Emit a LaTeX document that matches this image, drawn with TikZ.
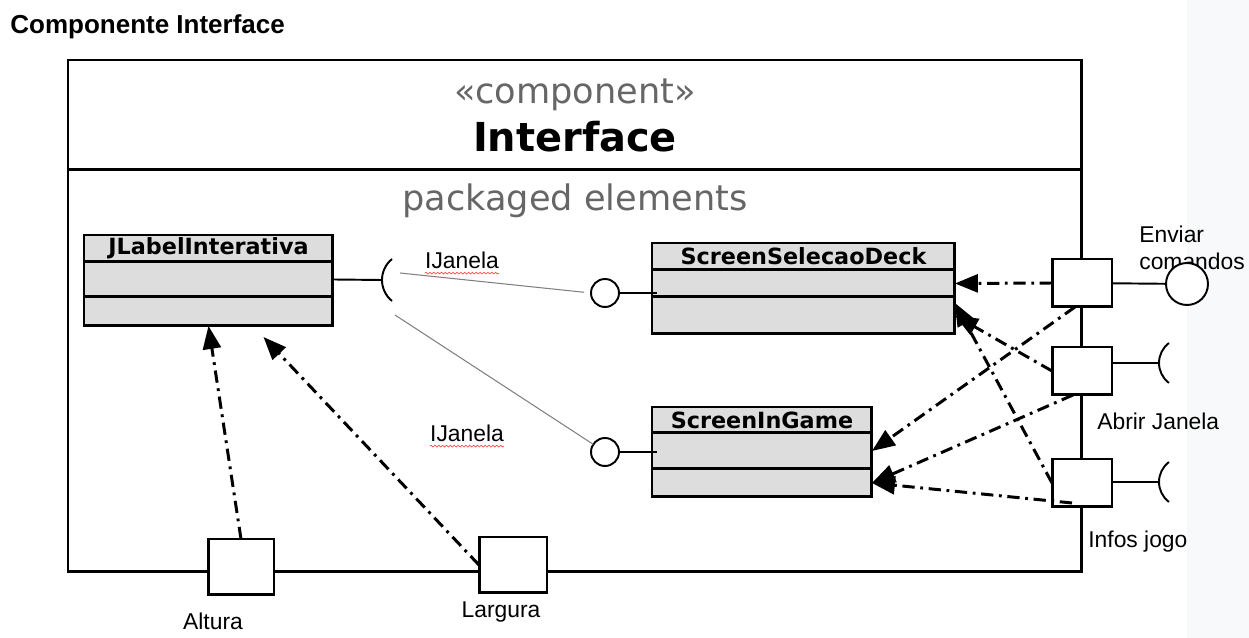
\documentclass[tikz,border=0pt]{standalone}
\usepackage{fontspec}
\setmainfont{Liberation Sans}
\newfontfamily\dejavu{DejaVu Sans}
\usepackage{xcolor}
\usepackage{tikz}
\usetikzlibrary{positioning,arrows.meta,decorations.pathmorphing}
\definecolor{umlgrey}{HTML}{DDDDDD}
\definecolor{stereogrey}{HTML}{666666}
\definecolor{wiregrey}{HTML}{808080}
\definecolor{stripgrey}{HTML}{F8F9FA}
\tikzset{
	framebox/.style={rectangle, draw=black, line width=1.7pt, outer sep=0pt, inner sep=0pt, minimum width=20.28cm},
	classpart/.style={rectangle, draw=black, fill=umlgrey, line width=1.7pt, outer sep=0pt, inner sep=0pt, font=\dejavu\bfseries\fontsize{12.7}{15}\selectfont},
	portbox/.style={rectangle, draw=black, fill=white, line width=1.7pt, outer sep=0pt, minimum width=1.2cm, minimum height=0.96cm}
}
\tikzset{
	lolli/.style={circle, draw=black, fill=white, line width=1.1pt, minimum size=0.56cm, inner sep=0pt, outer sep=0pt},
	lbl/.style={font=\fontsize{13}{15.6}\selectfont, inner sep=0pt},
	depline/.style={-{Triangle[length=0.46cm,width=0.36cm]}, line width=1.7pt, dash pattern=on 7pt off 3.2pt on 1.6pt off 3.2pt},
	wire/.style={draw=wiregrey, line width=0.6pt},
	squiggle/.style={draw=red!70, line width=0.4pt, decorate, decoration={snake, amplitude=0.5pt, segment length=2.2pt}}
}
\begin{document}
\begin{tikzpicture}[x=0.02cm, y=0.02cm]
	\useasboundingbox (0,0) rectangle (1249,-638);
	\fill[stripgrey] (1187,0) rectangle (1249,-638);

	\node[lbl, font=\bfseries\fontsize{14.8}{17}\selectfont, anchor=west] at (10,-27) (title) {Componente Interface};

	% component frame
	\node[framebox, anchor=north west, minimum height=2.2cm] at (68,-60) (comphead) {};
	\node[framebox, below=0pt of comphead, minimum height=8.04cm] (compbody) {};
	\node[text=stereogrey, font=\dejavu\fontsize{20}{24}\selectfont] at (575,-95) (stereo) {«component»};
	\node[font=\dejavu\bfseries\fontsize{22.7}{27}\selectfont] at (575,-137) (compname) {Interface};
	\node[text=stereogrey, font=\dejavu\fontsize{20}{24}\selectfont] at (575,-201) (pkg) {packaged elements};

	% classes
	\node[classpart, anchor=north west, minimum width=4.98cm, minimum height=0.54cm] at (84,-235) (jhead) {JLabelInterativa};
	\node[classpart, below=0pt of jhead, minimum width=4.98cm, minimum height=0.7cm] (jmid) {};
	\node[classpart, below=0pt of jmid, minimum width=4.98cm, minimum height=0.58cm] (jlow) {};

	\node[classpart, anchor=north west, minimum width=6.06cm, minimum height=0.54cm] at (652,-243) (ssdhead) {ScreenSelecaoDeck};
	\node[classpart, below=0pt of ssdhead, minimum width=6.06cm, minimum height=0.54cm] (ssdmid) {};
	\node[classpart, below=0pt of ssdmid, minimum width=6.06cm, minimum height=0.74cm] (ssdlow) {};

	\node[classpart, anchor=north west, minimum width=4.4cm, minimum height=0.52cm] at (652,-407) (sighead) {ScreenInGame};
	\node[classpart, below=0pt of sighead, minimum width=4.4cm, minimum height=0.72cm] (sigmid) {};
	\node[classpart, below=0pt of sigmid, minimum width=4.4cm, minimum height=0.56cm] (siglow) {};

	% interfaces
	\node[lolli] at (605,-293) (lolA) {};
	\node[lolli] at (605,-452) (lolB) {};
	\draw[line width=1.1pt, shorten >=-0.1cm] (lolA) -- (lolA -| ssdmid.west);
	\draw[line width=1.1pt, shorten >=-0.1cm] (lolB) -- (lolB -| sigmid.west);

	\coordinate (sockJ) at (382,-280);
	\draw[line width=1.1pt] (jmid.east) -- (sockJ);
	\draw[line width=1.1pt] (sockJ) arc[start angle=180, end angle=129, radius=0.54cm] (sockJ) arc[start angle=180, end angle=231, radius=0.54cm];

	\coordinate (wireA) at (400,-273);
	\coordinate (wireB) at (395,-315);
	\draw[wire, shorten >=0.14cm] (wireA) -- (lolA.west);
	\draw[wire] (wireB) -- (lolB);
	\node[lbl] at (462,-260) (ifA) {IJanela};
	\node[lbl] at (467,-433) (ifB) {IJanela};
	\draw[squiggle] ([yshift=-2.5pt]ifA.south west) -- ([yshift=-2.5pt]ifA.south east);
	\draw[squiggle] ([yshift=-2.5pt]ifB.south west) -- ([yshift=-2.5pt]ifB.south east);

	% ports
	\node[portbox] at (1082,-283) (pone) {};
	\node[portbox] at (1082,-371) (ptwo) {};
	\node[portbox] at (1082,-483) (pthree) {};
	\node[portbox, minimum width=1.32cm, minimum height=1.12cm] at (241,-567) (palt) {};
	\node[portbox, minimum width=1.36cm, minimum height=1.12cm] at (513,-565) (plarg) {};

	\node[lbl, align=left, anchor=west] at (1139,-248) (lsend) {Enviar\\comandos};
	\node[lbl, anchor=west] at (1097,-421) (lopen) {Abrir Janela};
	\node[lbl, anchor=west] at (1088,-542) (linfo) {Infos jogo};
	\node[lbl] at (213,-621) (lalt) {Altura};
	\node[lbl] at (501,-612) (llarg) {Largura};

	\node[lolli, minimum size=0.84cm] at (1187,-284) (send) {};
	\draw[line width=1.1pt] (pone) -- (send);

	\coordinate (sockOpen) at (1159,-363);
	\coordinate (sockInfo) at (1159,-482);
	\draw[line width=1.1pt] (ptwo.east |- sockOpen) -- (sockOpen);
	\draw[line width=1.1pt] (pthree.east |- sockInfo) -- (sockInfo);
	\draw[line width=1.1pt] (sockOpen) arc[start angle=180, end angle=127, radius=0.5cm] (sockOpen) arc[start angle=180, end angle=233, radius=0.5cm];
	\draw[line width=1.1pt] (sockInfo) arc[start angle=180, end angle=127, radius=0.5cm] (sockInfo) arc[start angle=180, end angle=233, radius=0.5cm];

	% dependencies
	\draw[depline] (palt.north) -- (jlow.south);
	\draw[depline] (plarg.west) -- ([xshift=1.1cm, yshift=-0.22cm]jlow.south);
	\draw[depline] (pone.west) -- (ssdmid.east);
	\draw[depline] ([xshift=-0.14cm]pone.south) -- (sigmid.east);
	\draw[depline] (ptwo.west) -- (ssdlow.east);
	\draw[depline] ([xshift=-0.18cm]ptwo.south) -- (siglow.east);
	\draw[depline] (pthree.west) -- ([yshift=-0.12cm]ssdlow.north east);
	\draw[depline] ([xshift=-0.2cm, yshift=0.08cm]pthree.south) -- (siglow.east);
\end{tikzpicture}
\end{document}
